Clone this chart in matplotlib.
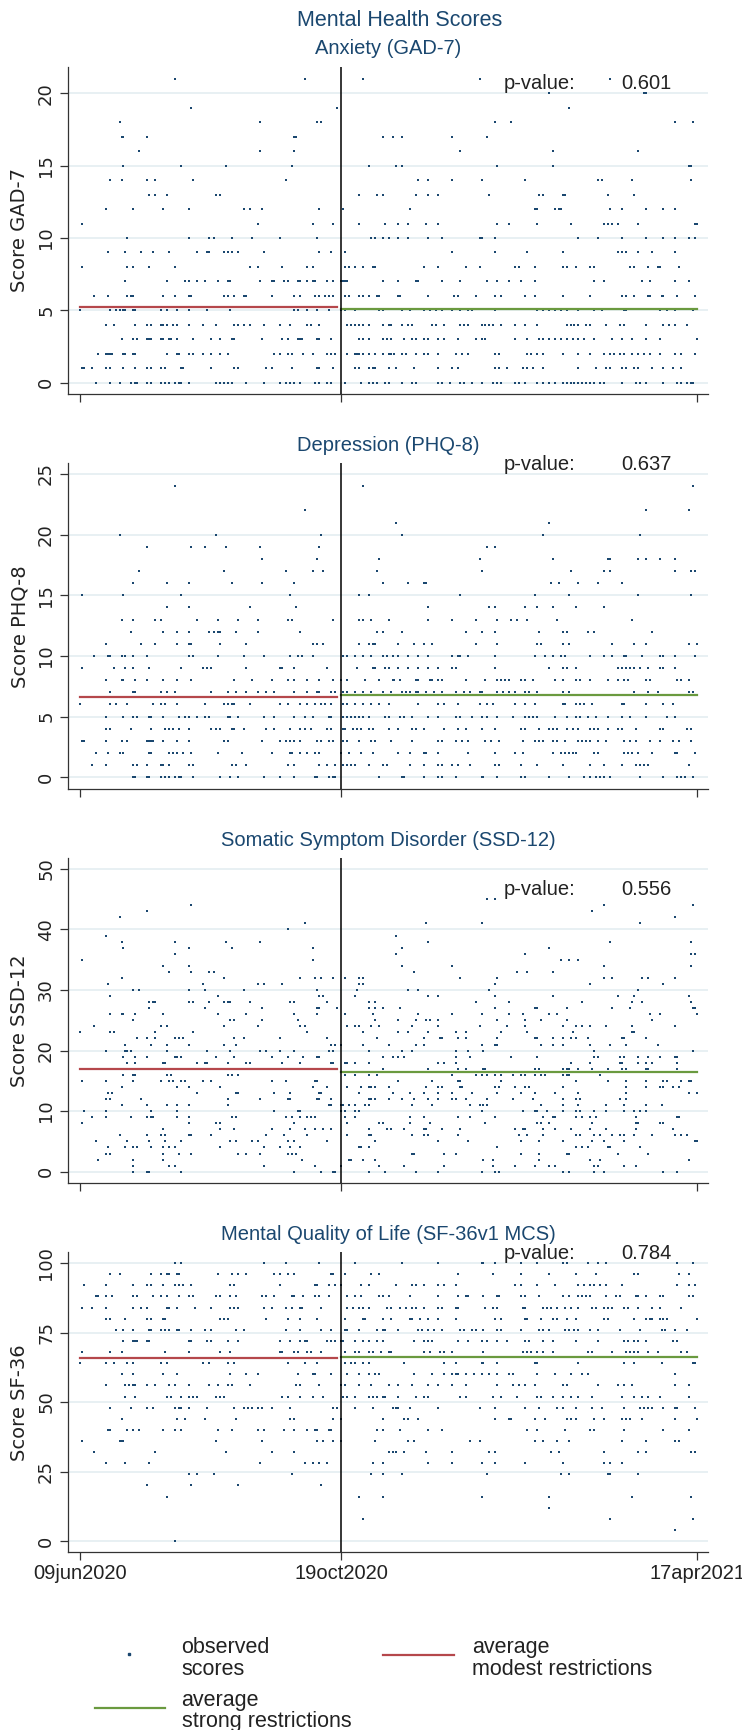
import numpy as np
import matplotlib
matplotlib.use("Agg")
import matplotlib.pyplot as plt
import matplotlib.transforms as mtrans
from matplotlib.lines import Line2D

W, H = 742, 1730

navy = "#1a476f"
red = "#b5474b"
green = "#6a9a3f"
grid_col = "#e4eef1"
ink = "#222222"

# ---- data ----
start = np.datetime64("2020-06-09")
tick_dates = ["2020-06-09", "2020-10-19", "2021-04-17"]
tick_labels = ["09jun2020", "19oct2020", "17apr2021"]
cutoff = "2020-10-19"
modest_span = ["2020-06-09", "2020-10-17"]
strong_span = ["2020-10-19", "2021-04-17"]

# score -> days since 09jun2020 of each observation
gad7 = {
    21: [48, 114, 143, 202, 268],
    20: [237, 285, 286],
    19: [56, 130, 247],
    18: [20, 91, 120, 122, 210, 218, 301, 310],
    17: [21, 22, 34, 108, 109, 153, 158, 163, 188, 206],
    16: [30, 91, 108, 192, 239, 282],
    15: [22, 51, 74, 107, 146, 160, 163, 211, 239, 308, 309],
    14: [15, 21, 34, 38, 57, 104, 171, 176, 188, 203, 225, 262, 264, 279, 309],
    13: [35, 38, 44, 69, 71, 141, 150, 153, 170, 176, 181, 207, 232, 234, 244, 245, 267, 280],
    12: [13, 27, 42, 55, 83, 86, 92, 121, 133, 167, 230, 231, 240, 242, 243, 268, 274, 286, 295, 301],
    11: [1, 90, 118, 128, 141, 154, 161, 166, 175, 181, 211, 217, 231, 248, 265, 267, 269, 272, 282, 311, 312],
    10: [24, 55, 65, 68, 77, 87, 101, 120, 147, 149, 153, 156, 161, 166, 176, 183, 202, 203, 210, 252, 262,
         274, 286, 295, 301, 308, 311],
    9: [14, 23, 31, 37, 45, 59, 64, 65, 73, 75, 77, 80, 93, 121, 127, 134, 188, 210, 226, 244, 272, 274, 276,
        282, 289, 301],
    8: [1, 24, 27, 35, 48, 86, 90, 102, 115, 118, 134, 136, 139, 143, 148, 149, 174, 181, 195, 202, 220, 222,
        230, 244, 246, 251, 258, 260, 278, 280, 287, 292, 293, 303],
    7: [23, 44, 53, 55, 59, 63, 70, 75, 76, 91, 97, 98, 103, 105, 110, 111, 115, 118, 119, 125, 128, 132, 133,
        134, 135, 153, 161, 170, 171, 183, 192, 206, 211, 217, 223, 230, 260, 265, 284, 288, 301, 308],
    6: [7, 14, 24, 26, 27, 42, 48, 55, 56, 73, 75, 78, 83, 84, 97, 108, 111, 119, 121, 124, 126, 128, 134, 136,
        141, 143, 146, 150, 151, 161, 162, 176, 189, 191, 200, 210, 213, 225, 230, 244, 258, 274, 276, 280, 287,
        288, 294, 295, 302, 311],
    5: [0, 15, 18, 20, 22, 23, 27, 28, 41, 44, 49, 55, 64, 76, 108, 110, 115, 120, 126, 132, 134, 139, 151, 153,
        163, 167, 174, 177, 180, 183, 188, 192, 196, 198, 210, 231, 234, 237, 240, 243, 246, 252, 260, 264, 275,
        276, 293, 297, 301, 310],
    4: [13, 17, 28, 34, 36, 41, 42, 44, 47, 49, 55, 62, 69, 78, 80, 83, 86, 93, 101, 106, 115, 117, 121, 135,
        137, 139, 141, 143, 146, 153, 156, 157, 163, 166, 168, 178, 180, 184, 192, 194, 196, 203, 205, 207, 209,
        213, 220, 225, 231, 246, 248, 250, 252, 256, 258, 266, 273, 275, 286, 295, 298, 301, 307],
    3: [21, 27, 29, 34, 35, 36, 41, 42, 45, 46, 49, 57, 66, 71, 77, 78, 92, 102, 105, 110, 111, 112, 120, 121,
        127, 141, 143, 146, 153, 155, 157, 164, 168, 170, 174, 176, 181, 184, 191, 200, 203, 205, 220, 226, 232,
        234, 237, 240, 243, 246, 249, 252, 255, 260, 269, 274, 279, 286, 293, 312],
    2: [9, 13, 14, 15, 16, 22, 23, 27, 28, 44, 49, 50, 55, 57, 62, 66, 71, 75, 98, 101, 105, 107, 113, 118, 125,
        127, 129, 135, 139, 140, 141, 143, 146, 149, 153, 156, 157, 159, 163, 165, 170, 174, 176, 181, 190, 193,
        196, 210, 212, 226, 228, 231, 234, 244, 252, 258, 265, 268, 270, 273, 275, 279, 282, 285, 288, 293, 301,
        304, 311],
    1: [1, 2, 6, 13, 15, 22, 28, 34, 36, 41, 43, 51, 52, 66, 78, 80, 94, 97, 107, 120, 121, 128, 139, 141, 146,
        148, 149, 156, 160, 169, 181, 188, 191, 210, 212, 216, 224, 226, 229, 234, 252, 261, 266, 268, 274, 276,
        280, 282, 289, 295, 300, 304],
    0: [8, 15, 20, 26, 28, 29, 34, 36, 41, 43, 45, 48, 50, 51, 55, 69, 71, 73, 75, 77, 84, 93, 101, 104, 106, 108,
        111, 119, 121, 125, 127, 134, 142, 146, 148, 150, 154, 156, 163, 168, 170, 181, 183, 187, 192, 194, 198,
        203, 209, 211, 213, 220, 222, 225, 231, 234, 237, 240, 244, 246, 248, 250, 252, 254, 256, 258, 260, 263,
        265, 274, 281, 283, 286, 295, 302, 304, 307, 309, 310],
}

phq8 = {
    24: [48, 143, 310],
    22: [114, 286, 308],
    21: [160, 237],
    20: [20, 69, 122, 163, 234, 283],
    19: [34, 56, 63, 74, 91, 121, 206, 210],
    18: [92, 120, 151, 202, 239, 267, 268, 282, 286, 293, 301],
    17: [30, 73, 104, 118, 123, 150, 203, 248, 265, 268, 301, 309, 311],
    16: [27, 44, 55, 77, 92, 108, 153, 166, 174, 175, 238, 242, 252, 262, 274],
    15: [1, 22, 51, 106, 141, 146, 192, 230, 247, 282, 309],
    14: [44, 55, 86, 109, 176, 207, 210, 225, 231, 239, 251, 265],
    13: [21, 27, 38, 41, 59, 70, 80, 90, 105, 107, 128, 141, 143, 147, 156, 176, 188, 200, 211, 218, 221, 226,
         241, 279],
    12: [26, 42, 49, 55, 65, 68, 70, 71, 79, 90, 111, 150, 153, 163, 195, 203, 210, 232, 244, 246, 257, 260, 289],
    11: [13, 31, 38, 49, 55, 56, 71, 84, 118, 120, 123, 141, 146, 148, 149, 161, 169, 174, 178, 200, 211, 231,
         233, 244, 247, 269, 280, 286, 308, 312],
    10: [7, 14, 15, 21, 23, 27, 34, 55, 57, 70, 83, 93, 106, 110, 112, 118, 133, 135, 139, 143, 147, 153, 155,
         158, 161, 166, 171, 176, 188, 191, 192, 196, 210, 230, 235, 239, 243, 245, 258, 265, 269, 275, 276, 284,
         293, 295, 301, 311],
    9: [1, 17, 23, 27, 35, 51, 62, 64, 66, 84, 101, 102, 108, 125, 140, 148, 149, 154, 156, 161, 166, 171, 176,
        181, 188, 190, 210, 237, 244, 246, 251, 272, 274, 276, 278, 280, 283, 287, 293, 295, 301],
    8: [13, 21, 22, 28, 34, 42, 49, 56, 78, 87, 97, 105, 108, 115, 121, 128, 132, 135, 144, 151, 158, 159, 162,
        170, 171, 177, 178, 181, 183, 195, 205, 211, 213, 215, 217, 223, 225, 229, 240, 244, 251, 253, 258, 267,
        272, 275, 277, 286, 288, 302, 304, 308],
    7: [15, 27, 28, 41, 44, 48, 66, 75, 79, 84, 90, 94, 98, 108, 115, 120, 121, 127, 129, 133, 135, 139, 143,
        147, 153, 157, 163, 165, 167, 170, 171, 175, 179, 183, 190, 194, 197, 202, 203, 211, 214, 217, 220, 225,
        227, 231, 244, 247, 280, 287, 292, 308, 310],
    6: [0, 15, 18, 24, 37, 41, 43, 49, 63, 73, 75, 77, 78, 86, 101, 105, 111, 115, 119, 122, 124, 127, 133, 135,
        139, 143, 147, 151, 156, 171, 181, 184, 191, 202, 206, 209, 220, 225, 230, 244, 245, 251, 253, 255, 259,
        274, 275, 286, 295, 300],
    5: [13, 22, 27, 29, 35, 36, 42, 50, 53, 55, 59, 63, 65, 75, 76, 80, 93, 98, 108, 114, 118, 126, 127, 133,
        135, 137, 139, 141, 143, 146, 154, 156, 162, 164, 168, 176, 181, 190, 192, 198, 203, 206, 211, 219, 225,
        227, 229, 231, 240, 246, 251, 253, 257, 261, 267, 274, 278, 286, 297, 301],
    4: [13, 15, 26, 36, 43, 45, 47, 50, 55, 66, 69, 71, 77, 78, 83, 94, 98, 106, 111, 114, 117, 125, 127, 133,
        134, 138, 140, 142, 146, 148, 156, 161, 168, 170, 174, 184, 191, 195, 203, 210, 223, 225, 232, 237, 239,
        241, 246, 249, 252, 258, 260, 262, 267, 272, 274, 281, 293, 295, 307, 309],
    3: [1, 2, 13, 21, 24, 34, 35, 36, 37, 42, 49, 55, 73, 75, 92, 101, 104, 106, 108, 111, 120, 122, 126, 128,
        133, 135, 141, 147, 149, 157, 168, 181, 183, 190, 193, 196, 205, 208, 212, 224, 230, 232, 234, 239, 241,
        245, 252, 254, 256, 258, 262, 266, 275, 278, 281, 288, 293, 300, 303, 309],
    2: [8, 14, 20, 22, 35, 36, 45, 47, 49, 52, 56, 70, 82, 97, 106, 107, 111, 115, 119, 121, 132, 136, 142, 148,
        161, 167, 174, 175, 181, 196, 210, 220, 224, 239, 243, 245, 247, 249, 251, 260, 262, 275, 277, 279, 282,
        289, 301, 302, 311],
    1: [6, 13, 27, 29, 34, 41, 42, 45, 55, 57, 77, 79, 84, 105, 108, 121, 125, 129, 133, 135, 137, 139, 146, 153,
        155, 167, 174, 181, 183, 188, 191, 197, 210, 212, 223, 231, 244, 258, 265, 274, 281, 283, 285, 287, 308],
    0: [27, 28, 34, 35, 41, 43, 45, 48, 50, 51, 57, 71, 76, 80, 93, 101, 108, 119, 120, 126, 128, 129, 151, 163,
        164, 174, 181, 183, 190, 203, 204, 211, 223, 225, 237, 247, 255, 258, 261, 263, 265, 268, 283, 295, 302,
        304, 306, 310],
}

ssd12 = {
    45: [206, 210],
    44: [56, 265, 310],
    43: [34, 259],
    42: [20, 301],
    41: [114, 175, 203, 283],
    40: [105],
    39: [13, 160],
    38: [21, 48, 74, 91, 176, 268, 309],
    37: [22, 55, 77, 118, 163, 237],
    36: [48, 160, 225, 309, 311],
    35: [1, 118, 243, 247, 252],
    34: [42, 55, 163, 188, 265, 309],
    33: [45, 56, 65, 68, 169, 221, 226, 239],
    32: [21, 73, 111, 119, 122, 128, 134, 141, 143, 192, 211, 265, 269, 284, 287, 301],
    31: [14, 62, 90, 93, 102, 141, 143, 210, 258, 295],
    30: [27, 30, 55, 63, 83, 120, 140, 166, 171, 207, 282],
    29: [15, 70, 121, 123, 139, 176, 181, 210, 239, 272, 280, 308],
    28: [35, 37, 38, 55, 57, 65, 73, 75, 76, 86, 106, 108, 125, 146, 149, 200, 217, 254, 279, 284, 309],
    27: [35, 63, 92, 120, 121, 130, 146, 149, 153, 162, 210, 230, 231, 246, 269, 278, 310, 311],
    26: [15, 21, 22, 28, 42, 70, 84, 108, 120, 134, 148, 171, 188, 203, 217, 224, 237, 241, 288, 293, 312],
    25: [27, 76, 78, 92, 110, 149, 161, 170, 175, 177, 181, 211, 225, 233, 246, 289],
    24: [7, 41, 44, 73, 90, 111, 114, 135, 139, 141, 147, 151, 168, 181, 202, 216, 225, 244, 251, 254, 258, 266,
         279, 301],
    23: [0, 15, 17, 38, 57, 115, 143, 161, 166, 176, 190, 195, 213, 226, 249, 279, 280],
    22: [29, 34, 38, 48, 50, 52, 78, 83, 101, 125, 150, 174, 182, 183, 191, 195, 211, 230, 231, 239, 244, 248,
         251, 257, 274, 275, 286],
    21: [23, 36, 44, 55, 73, 79, 127, 129, 132, 143, 156, 170, 174, 203, 210, 211, 233, 239, 244, 258, 268, 276,
         292],
    20: [13, 23, 24, 26, 44, 64, 76, 91, 94, 101, 108, 126, 128, 146, 163, 168, 190, 196, 204, 260, 310],
    19: [22, 28, 34, 48, 49, 51, 69, 78, 97, 105, 113, 120, 121, 153, 158, 161, 164, 190, 197, 218, 231, 260,
         262, 273, 275, 282, 287, 293, 301, 302],
    18: [24, 28, 42, 43, 59, 63, 64, 75, 84, 86, 102, 111, 127, 128, 134, 135, 139, 146, 181, 184, 190, 248, 258,
         273, 274, 282, 286, 289, 302],
    17: [18, 34, 35, 66, 70, 78, 107, 153, 176, 191, 195, 204, 205, 230, 232, 244, 246, 247, 252, 259, 267, 274,
         276, 286, 287, 302],
    16: [22, 27, 28, 44, 46, 75, 77, 80, 134, 139, 146, 150, 188, 200, 203, 206, 210, 213, 219, 223, 225, 230,
         233, 235, 244, 246, 247, 263],
    15: [1, 13, 27, 41, 45, 47, 51, 53, 62, 66, 97, 104, 119, 120, 161, 178, 191, 192, 213, 251, 267, 276, 286,
         295, 297, 304, 308, 309],
    14: [21, 49, 55, 71, 118, 125, 135, 142, 146, 147, 149, 156, 175, 181, 183, 192, 193, 210, 212, 220, 225,
         227, 244, 276, 286, 293, 295, 300, 303],
    13: [14, 16, 59, 79, 80, 98, 106, 121, 122, 141, 158, 167, 174, 181, 188, 198, 211, 223, 230, 240, 252, 276,
         308, 312],
    12: [13, 15, 31, 75, 91, 105, 106, 120, 121, 127, 146, 147, 149, 156, 163, 169, 176, 181, 188, 190, 195, 206,
         219, 229, 244, 251, 253, 273, 276],
    11: [21, 34, 44, 49, 55, 75, 126, 127, 132, 133, 136, 139, 144, 146, 168, 178, 197, 202, 204, 206, 233, 244,
         252, 266, 275, 286, 294],
    10: [2, 13, 36, 49, 98, 110, 111, 132, 134, 139, 141, 203, 224, 230, 231, 236, 244, 251, 253, 260, 266, 275,
         280, 283, 286],
    9: [6, 13, 26, 34, 36, 37, 49, 55, 77, 79, 104, 107, 111, 115, 117, 119, 134, 139, 167, 174, 191, 197, 210,
        234, 239, 240, 251, 254, 258, 261, 281, 302, 303],
    8: [1, 55, 69, 71, 108, 135, 151, 153, 167, 177, 205, 231, 233, 237, 259, 281, 282, 293, 295],
    7: [42, 71, 78, 97, 106, 114, 119, 123, 127, 146, 155, 157, 164, 174, 175, 183, 192, 220, 224, 225, 234, 240,
        248, 258, 266, 281, 300],
    6: [20, 34, 41, 43, 55, 56, 66, 94, 103, 115, 135, 146, 147, 168, 174, 176, 191, 222, 226, 234, 251, 253,
        260, 263, 269, 273, 275, 280, 289, 301, 304, 307],
    5: [8, 24, 35, 43, 51, 76, 79, 87, 90, 105, 108, 125, 149, 181, 196, 223, 232, 244, 259, 265, 275, 311, 312],
    4: [14, 23, 27, 29, 36, 42, 45, 48, 71, 93, 101, 106, 111, 141, 142, 146, 211, 251, 254, 257, 267, 268, 283],
    3: [13, 15, 42, 50, 56, 80, 84, 91, 105, 107, 109, 168, 169, 184, 190, 223, 232, 246, 247, 272, 287],
    2: [9, 27, 42, 112, 136, 137, 143, 149, 204, 209, 232, 258, 263, 308],
    1: [27, 45, 48, 93, 119, 132, 151, 164, 184, 209, 220, 230, 237, 240, 260, 262, 275, 281],
    0: [27, 34, 35, 51, 108, 122, 128, 129, 146, 154, 170, 181, 203, 210, 212, 244, 247, 260, 265, 295, 302],
}

sf36 = {
    100: [48, 51, 93, 104, 121, 139, 163, 181, 203, 204, 210, 223, 231, 244, 246, 257, 262, 266, 302, 310],
    96: [15, 20, 36, 41, 44, 45, 49, 50, 70, 77, 80, 84, 98, 101, 105, 108, 127, 128, 134, 147, 151, 191, 209,
         223, 237, 251, 261, 280, 282, 303, 308],
    92: [2, 13, 27, 34, 36, 42, 48, 50, 52, 56, 76, 78, 101, 119, 120, 126, 129, 132, 142, 146, 160, 168, 170,
         174, 181, 184, 190, 220, 223, 231, 240, 252, 255, 258, 260, 263, 266, 274, 302, 308, 311],
    88: [8, 9, 13, 16, 27, 29, 37, 41, 44, 50, 55, 57, 69, 71, 76, 79, 92, 94, 98, 107, 108, 113, 119, 121, 126,
         135, 139, 142, 151, 153, 156, 167, 181, 191, 195, 196, 204, 211, 212, 223, 225, 232, 244, 247, 252, 254,
         256, 258, 266, 271, 273, 281, 282, 286, 293, 295, 308, 310],
    84: [1, 6, 13, 27, 31, 34, 44, 45, 49, 58, 66, 76, 78, 80, 93, 97, 104, 107, 111, 112, 122, 135, 138, 141,
         143, 146, 155, 157, 162, 165, 168, 170, 174, 181, 183, 190, 191, 205, 209, 211, 224, 225, 234, 236, 238,
         241, 245, 248, 252, 259, 261, 265, 267, 269, 275, 277, 282, 289, 293, 304],
    80: [13, 15, 23, 34, 36, 42, 43, 71, 73, 75, 94, 105, 111, 120, 134, 143, 144, 153, 157, 167, 168, 172, 176,
         181, 190, 210, 213, 225, 226, 233, 239, 241, 246, 251, 265, 267, 280, 286, 288, 289, 293, 295, 297, 312],
    76: [18, 22, 27, 35, 36, 41, 43, 45, 49, 50, 56, 63, 66, 79, 83, 104, 111, 122, 127, 134, 135, 141, 150, 153,
         154, 161, 171, 173, 176, 179, 183, 192, 194, 198, 200, 204, 211, 213, 223, 232, 234, 237, 245, 247, 250,
         252, 258, 262, 273, 283, 294, 296, 301, 307],
    72: [22, 27, 28, 29, 34, 35, 55, 56, 64, 66, 75, 80, 101, 106, 111, 114, 115, 125, 127, 129, 132, 133, 139,
         143, 146, 150, 153, 169, 174, 176, 178, 191, 196, 203, 206, 211, 216, 225, 227, 234, 239, 251, 262, 275,
         277, 280, 282, 286, 300, 302],
    68: [1, 15, 21, 43, 55, 71, 76, 101, 102, 108, 110, 115, 117, 122, 134, 139, 141, 146, 148, 152, 156, 157,
         174, 177, 182, 184, 188, 204, 224, 226, 228, 231, 234, 239, 257, 259, 269, 276, 278, 280, 282, 287, 292,
         304, 307],
    64: [0, 13, 17, 24, 27, 41, 44, 62, 65, 75, 78, 105, 114, 120, 134, 137, 139, 143, 146, 164, 184, 190, 203,
         204, 211, 230, 231, 252, 275, 280, 294, 310, 311],
    60: [21, 27, 42, 49, 76, 84, 90, 110, 118, 119, 127, 135, 141, 146, 149, 151, 169, 178, 184, 188, 190, 191,
         195, 199, 203, 207, 211, 217, 219, 231, 240, 248, 254, 257, 301],
    56: [13, 23, 25, 27, 28, 34, 38, 45, 48, 55, 65, 70, 75, 77, 86, 109, 111, 121, 132, 134, 141, 147, 156, 161,
         168, 176, 181, 188, 195, 211, 219, 222, 225, 230, 244, 246, 262, 272, 275, 279, 301, 308],
    52: [23, 28, 44, 46, 51, 55, 57, 59, 69, 71, 73, 102, 105, 111, 118, 123, 133, 135, 139, 146, 148, 150, 153,
         154, 161, 170, 174, 176, 192, 195, 209, 213, 221, 231, 233, 239, 244, 248, 252, 259, 274, 280, 284, 287,
         293, 308],
    48: [15, 26, 34, 37, 48, 50, 51, 55, 64, 78, 83, 85, 87, 90, 92, 97, 106, 128, 130, 139, 148, 158, 160, 161,
         167, 181, 202, 210, 225, 232, 241, 244, 251, 259, 264, 275, 283, 285, 287, 289, 295, 301, 302, 311],
    44: [21, 49, 53, 63, 79, 106, 108, 128, 132, 153, 164, 166, 171, 210, 217, 218, 230, 235, 246, 248, 251, 260,
         265, 274, 276, 278, 284, 301, 312],
    40: [14, 15, 24, 27, 30, 42, 48, 51, 70, 77, 90, 93, 103, 108, 115, 119, 120, 126, 127, 150, 153, 162, 176,
         183, 226, 231, 245, 258, 260, 275, 295, 308],
    36: [1, 20, 21, 22, 69, 92, 120, 123, 128, 132, 149, 166, 169, 197, 202, 230, 234, 241, 247, 274, 286, 301,
         303],
    32: [7, 38, 74, 97, 108, 156, 158, 160, 164, 175, 188, 207, 210, 238, 242, 265, 282, 286, 309, 311],
    28: [13, 23, 35, 91, 114, 118, 121, 125, 148, 153, 176, 188, 203, 210, 225, 244, 265, 268, 274],
    24: [55, 59, 68, 107, 147, 153, 163, 206, 243, 247, 267, 268, 282],
    20: [34, 56, 80, 122],
    16: [44, 141, 153, 203, 237, 279, 309],
    12: [237],
    8: [143, 268, 310],
    4: [301],
    0: [48],
}

# averages (modest, strong) and p-values
means_gad7 = [5.25, 5.11]
means_phq8 = [6.64, 6.81]
means_ssd12 = [16.9, 16.47]
means_sf36 = [65.8, 66.15]
pvalues = ["0.601", "0.637", "0.556", "0.784"]

titles = ["Anxiety (GAD-7)", "Depression (PHQ-8)", "Somatic Symptom Disorder (SSD-12)",
          "Mental Quality of Life (SF-36v1 MCS)"]
ylabels = ["Score GAD-7", "Score PHQ-8", "Score SSD-12", "Score SF-36"]


def day(d):
    return int((np.datetime64(d) - start).astype(int))


def flatten(data):
    xs = [d for s, ds in data.items() for d in ds]
    ys = [s for s, ds in data.items() for d in ds]
    return xs, ys


plt.rcParams["font.family"] = ["Liberation Sans", "DejaVu Sans"]

fig = plt.figure(figsize=(W / 100, H / 100), dpi=100)

# layout in pixels: axes top/bottom, subtitle baseline; p-value y in data units
panels = [
    dict(data=gad7, means=means_gad7, ylim=(-0.8, 21.84), yticks=[0, 5, 10, 15, 20],
         top=66.7, bottom=394.3, sub=54, py=20.7),
    dict(data=phq8, means=means_phq8, ylim=(-0.99, 25.88), yticks=[0, 5, 10, 15, 20, 25],
         top=463.3, bottom=789.3, sub=451, py=25.8),
    dict(data=ssd12, means=means_ssd12, ylim=(-1.92, 51.75), yticks=[0, 10, 20, 30, 40, 50],
         top=858.3, bottom=1183.3, sub=846, py=46.6),
    dict(data=sf36, means=means_sf36, ylim=(-4.07, 103.9), yticks=[0, 25, 50, 75, 100],
         top=1252.3, bottom=1552.3, sub=1240, py=103.6),
]

left_px, right_px = 68.3, 708.0
xticks = [day(d) for d in tick_dates]

for i, p in enumerate(panels):
    ax = fig.add_axes([left_px / W, 1 - p["bottom"] / H, (right_px - left_px) / W,
                       (p["bottom"] - p["top"]) / H])
    xs, ys = flatten(p["data"])
    ax.scatter(xs, ys, s=2.8, marker="s", c=navy, linewidths=0, zorder=3)

    m0, m1 = p["means"]
    ax.plot([day(modest_span[0]), day(modest_span[1])], [m0, m0], color=red, lw=1.6, zorder=4)
    ax.plot([day(strong_span[0]), day(strong_span[1])], [m1, m1], color=green, lw=1.6, zorder=4)
    ax.axvline(day(cutoff), color="black", lw=1.1, zorder=5)

    ax.set_xlim(-5.9, 317.5)
    ax.set_ylim(*p["ylim"])
    ax.set_yticks(p["yticks"])
    ax.yaxis.grid(True, color=grid_col, lw=1.2)
    ax.set_axisbelow(True)
    for s in ["top", "right"]:
        ax.spines[s].set_visible(False)
    for s in ["left", "bottom"]:
        ax.spines[s].set_color("#333333")
        ax.spines[s].set_linewidth(0.9)

    ax.set_xticks(xticks)
    if i == 3:
        ax.set_xticklabels(tick_labels, fontsize=14.5, color=ink)
        # keep the last date label inside the figure edge
        last = ax.get_xticklabels()[-1]
        last.set_transform(last.get_transform() + mtrans.ScaledTranslation(-7 / 100, 0, fig.dpi_scale_trans))
    else:
        ax.set_xticklabels([])
    ax.tick_params(axis="x", length=5.5, width=0.9, color="#333333", pad=3)
    ax.tick_params(axis="y", length=5.5, width=0.9, color="#333333", pad=4)
    for lab in ax.get_yticklabels():
        lab.set_rotation(90)
        lab.set_va("center")
        lab.set_ha("right")
        lab.set_fontsize(13)
        lab.set_family("DejaVu Sans")
        lab.set_color(ink)

    ax.set_ylabel(ylabels[i], fontsize=14, family="DejaVu Sans", color=ink)
    ax.yaxis.set_label_coords(-0.061, 0.5)

    ax.text(214, p["py"], "p-value:", fontsize=14.5, color=ink, va="center", ha="left", clip_on=False)
    ax.text(273.5, p["py"], pvalues[i], fontsize=14.5, color=ink, va="center", ha="left", clip_on=False)

    fig.text(388 / W, 1 - p["sub"] / H, titles[i], fontsize=14.5, color=navy, ha="center", va="baseline")

fig.text(400 / W, 1 - 26 / H, "Mental Health Scores", fontsize=15.5, color=navy, ha="center", va="baseline")

# legend
fs = 15.5
fig.add_artist(Line2D([129 / W], [1 - 1654 / H], marker="s", ms=1.7, color=navy, ls="none"))
fig.text(181.5 / W, 1 - 1653 / H, "observed", fontsize=fs, color=ink, va="baseline")
fig.text(181.5 / W, 1 - 1675 / H, "scores", fontsize=fs, color=ink, va="baseline")

fig.add_artist(Line2D([383 / W, 454 / W], [1 - 1655 / H, 1 - 1655 / H], color=red, lw=1.6))
fig.text(472 / W, 1 - 1653 / H, "average", fontsize=fs, color=ink, va="baseline")
fig.text(472 / W, 1 - 1675 / H, "modest restrictions", fontsize=fs, color=ink, va="baseline")

fig.add_artist(Line2D([95 / W, 164.5 / W], [1 - 1708 / H, 1 - 1708 / H], color=green, lw=1.6))
fig.text(181.5 / W, 1 - 1706 / H, "average", fontsize=fs, color=ink, va="baseline")
fig.text(181.5 / W, 1 - 1727 / H, "strong restrictions", fontsize=fs, color=ink, va="baseline")

fig.savefig("out.png", dpi=100, facecolor="white")
